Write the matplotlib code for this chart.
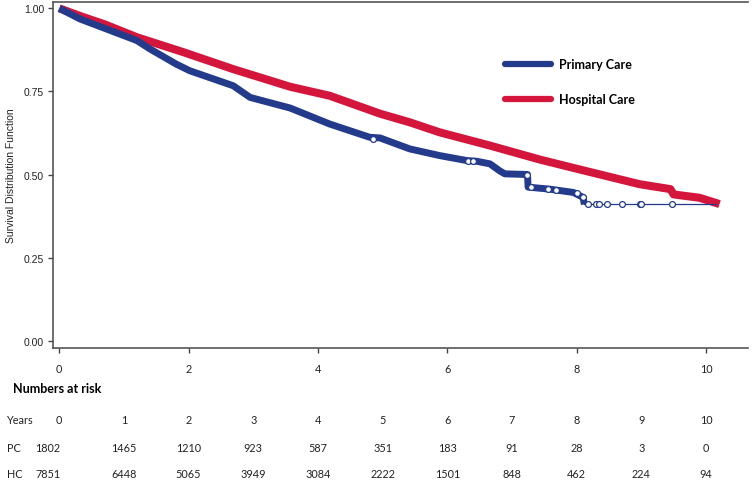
import matplotlib
matplotlib.use("Agg")
import matplotlib.pyplot as plt
from matplotlib.lines import Line2D
import matplotlib.transforms as mtransforms

# Kaplan-Meier curves (years, survival)
hc_time = [0.0, 0.35, 0.7, 1.2, 1.92, 2.69, 3.57, 4.18, 4.96, 5.42, 5.88, 6.66,
           7.43, 8.05, 8.97, 9.45, 9.5, 9.9, 10.21]
hc_surv = [1.0, 0.975, 0.952, 0.913, 0.868, 0.817, 0.764, 0.737, 0.683, 0.657,
           0.627, 0.587, 0.545, 0.515, 0.471, 0.456, 0.44, 0.43, 0.411]

pc_time = [0.0, 0.1, 0.32, 0.7, 1.2, 1.4, 1.81, 2.02, 2.69, 2.95, 3.57, 4.18,
           4.8, 4.96, 5.42, 5.88, 6.3, 6.45, 6.66, 6.81, 6.89, 7.24, 7.25, 7.58,
           7.95, 8.1, 8.12]
pc_surv = [1.0, 0.99, 0.968, 0.94, 0.903, 0.878, 0.832, 0.812, 0.767, 0.732,
           0.700, 0.652, 0.612, 0.610, 0.577, 0.557, 0.542, 0.54, 0.532, 0.511,
           0.502, 0.50, 0.462, 0.456, 0.446, 0.431, 0.41]
pc_tail_time = [8.12, 10.16]
pc_tail_surv = [0.41, 0.41]

# censored observations visible on the PC tail
pc_cens_time = [4.85, 6.32, 6.4, 7.24, 7.3, 7.55, 7.68, 8.0, 8.1,
                8.17, 8.3, 8.35, 8.47, 8.7, 8.98, 9.0, 9.47]
pc_cens_surv = [0.607, 0.542, 0.542, 0.50, 0.461, 0.456, 0.453, 0.445, 0.431,
                0.41, 0.41, 0.41, 0.41, 0.41, 0.41, 0.41, 0.41]

# numbers at risk
years = [0, 1, 2, 3, 4, 5, 6, 7, 8, 9, 10]
pc_risk = [1802, 1465, 1210, 923, 587, 351, 183, 91, 28, 3, 0]
hc_risk = [7851, 6448, 5065, 3949, 3084, 2222, 1501, 848, 462, 224, 94]

blue = "#243B8C"
red = "#D5163C"
text_font = ["Lato", "DejaVu Sans"]
axis_font = ["Liberation Sans", "DejaVu Sans"]

fig = plt.figure(figsize=(7.55, 4.81), dpi=100)
ax = fig.add_axes([53 / 755, 1 - 349 / 481, 695 / 755, 346 / 481])

ax.plot(hc_time, hc_surv, color=red, lw=5.8, solid_capstyle="butt", zorder=2)
ax.plot(pc_time, pc_surv, color=blue, lw=5.0, solid_capstyle="butt", zorder=3)
ax.plot(pc_tail_time, pc_tail_surv, color=blue, lw=0.9, zorder=3)
ax.plot(pc_cens_time, pc_cens_surv, ls="none", marker="o", ms=4.2, mfc="white",
        mec=blue, mew=0.9, zorder=4)

ax.set_xlim(-0.097, 10.65)
ax.set_ylim(-0.022, 1.019)
ax.set_xticks([0, 2, 4, 6, 8, 10])
ax.set_yticks([0, 0.25, 0.5, 0.75, 1.0])
ax.set_yticklabels(["0.00", "0.25", "0.50", "0.75", "1.00"],
                   family=axis_font, fontsize=7.5, color="#222222")
ax.set_xticklabels([str(v) for v in [0, 2, 4, 6, 8, 10]],
                   family=text_font, fontsize=7.8, color="#222222")
ax.tick_params(axis="both", direction="out", length=3.5, width=1.0, color="#444444")
ax.tick_params(axis="x", pad=7)
ax.tick_params(axis="y", pad=3)
for side in ["left", "bottom", "top"]:
    ax.spines[side].set_color("#555555")
    ax.spines[side].set_linewidth(1.2)
ax.spines["right"].set_visible(False)

ax.set_ylabel("Survival Distribution Function", family=axis_font, fontsize=7.5,
              color="#222222")
ax.yaxis.set_label_coords(-0.053, 0.5)

handles = [Line2D([], [], color=blue, lw=4.5, solid_capstyle="round"),
           Line2D([], [], color=red, lw=4.5, solid_capstyle="round")]
ax.legend(handles, ["Primary Care", "Hospital Care"], loc="center left",
          bbox_to_anchor=(0.650, 0.769), frameon=False, borderpad=0,
          borderaxespad=0, handlelength=3.7, handletextpad=0.6,
          labelspacing=1.85, prop={"family": text_font, "weight": "bold", "size": 9})

# numbers at risk table
trans = mtransforms.blended_transform_factory(ax.transData, fig.transFigure)
fig.text(13 / 755, 1 - 389 / 481, "Numbers at risk", family=text_font,
         fontweight="bold", fontsize=9, va="center", ha="left")
rows = [("Years", years, 1 - 421 / 481),
        ("PC", pc_risk, 1 - 448 / 481),
        ("HC", hc_risk, 1 - 475 / 481)]
for name, vals, yy in rows:
    fig.text(7 / 755, yy, name, family=text_font, fontsize=7.8, va="center",
             ha="left", color="#222222")
    for yr, v in zip(years, vals):
        xx = yr
        if name != "Years" and yr == 0:
            xx = yr - 0.18
        ax.text(xx, yy, str(v), transform=trans, family=text_font, fontsize=7.8,
                va="center", ha="center", color="#222222")

fig.savefig("out.png", dpi=100)
